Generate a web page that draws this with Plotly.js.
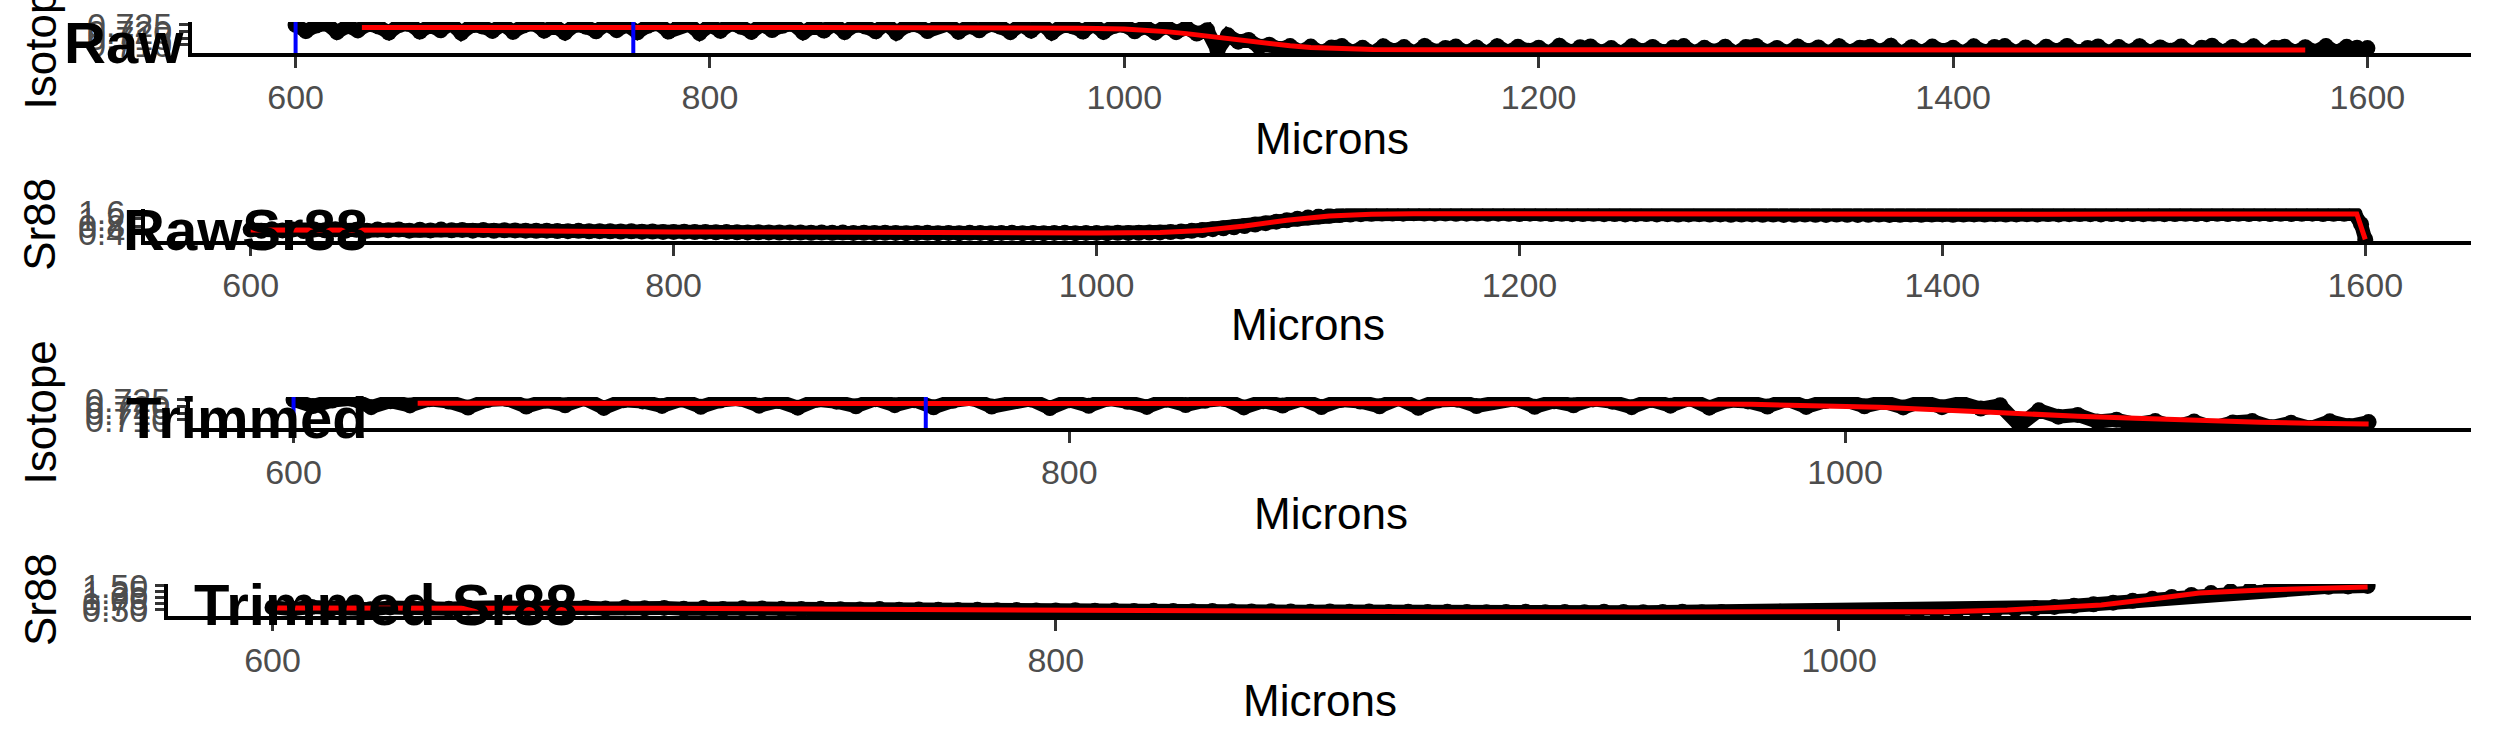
<!DOCTYPE html>
<html>
<head>
<meta charset="utf-8">
<script src="https://cdn.plot.ly/plotly-3.0.1.min.js"></script>
<style>html,body{margin:0;padding:0;background:#fff;}#chart{width:2495px;height:749px;}</style>
</head>
<body>
<div id="chart"></div>
<script>
// ---------------- DATA ----------------
const panelTitles = ["Raw", "RawSr88", "Trimmed", "Trimmed Sr88"];
const yTitles = ["Isotope", "Sr88", "Isotope", "Sr88"];
const xTitle = "Microns";

const micron = [
  600,605,610,615,620,625,630,635,640,645,650,655,660,665,670,675,680,685,690,695,
  700,705,710,715,720,725,730,735,740,745,750,755,760,765,770,775,780,785,790,795,
  800,805,810,815,820,825,830,835,840,845,850,855,860,865,870,875,880,885,890,895,
  900,905,910,915,920,925,930,935,940,945,950,955,960,965,970,975,980,985,990,995,
  1000,1005,1010,1015,1020,1025,1030,1035,1040,1045,1050,1055,1060,1065,1070,1075,1080,1085,1090,1095,
  1100,1105,1110,1115,1120,1125,1130,1135,1140,1145,1150,1155,1160,1165,1170,1175,1180,1185,1190,1195,
  1200,1205,1210,1215,1220,1225,1230,1235,1240,1245,1250,1255,1260,1265,1270,1275,1280,1285,1290,1295,
  1300,1305,1310,1315,1320,1325,1330,1335,1340,1345,1350,1355,1360,1365,1370,1375,1380,1385,1390,1395,
  1400,1405,1410,1415,1420,1425,1430,1435,1440,1445,1450,1455,1460,1465,1470,1475,1480,1485,1490,1495,
  1500,1505,1510,1515,1520,1525,1530,1535,1540,1545,1550,1555,1560,1565,1570,1575,1580,1585,1590,1595,
  1598,1600
];

const isotope = [
  0.7250,0.7204,0.7246,0.7258,0.7196,0.7241,0.7209,0.7255,0.7238,0.7193,
  0.7249,0.7257,0.7201,0.7244,0.7210,0.7260,0.7190,0.7247,0.7239,0.7205,
  0.7253,0.7199,0.7245,0.7259,0.7207,0.7242,0.7192,0.7251,0.7237,0.7203,
  0.7256,0.7211,0.7248,0.7195,0.7243,0.7261,0.7200,0.7240,0.7254,0.7189,
  0.7247,0.7206,0.7258,0.7236,0.7198,0.7252,0.7212,0.7244,0.7257,0.7194,
  0.7241,0.7208,0.7255,0.7197,0.7249,0.7238,0.7202,0.7260,0.7191,0.7246,
  0.7252,0.7204,0.7243,0.7256,0.7199,0.7240,0.7210,0.7254,0.7237,0.7196,
  0.7250,0.7207,0.7259,0.7192,0.7245,0.7239,0.7201,0.7253,0.7198,0.7242,
  0.7248,0.7203,0.7236,0.7194,
  0.7240,0.7196,0.7228,0.7185,0.7210,0.7060,0.7172,0.7125,0.7138,0.7088,0.7102,0.7070,0.7092,
  0.7050,0.7088,0.7043,0.7081,0.7092,0.7046,0.7079,0.7040,0.7090,0.7055,
  0.7084,0.7041,0.7093,0.7052,0.7078,0.7088,0.7044,0.7082,0.7039,0.7091,
  0.7048,0.7086,0.7056,0.7080,0.7042,0.7094,0.7050,0.7083,0.7089,0.7045,
  0.7077,0.7040,0.7090,0.7053,0.7085,0.7047,0.7081,0.7092,0.7043,0.7079,
  0.7051,0.7087,0.7038,0.7084,0.7093,0.7049,0.7078,0.7044,0.7089,0.7054,
  0.7082,0.7041,0.7091,0.7047,0.7080,0.7086,0.7052,0.7094,0.7039,0.7083,
  0.7046,0.7088,0.7055,0.7079,0.7042,0.7090,0.7050,0.7085,0.7092,0.7044,
  0.7081,0.7040,0.7087,0.7053,0.7093,0.7048,0.7078,0.7089,0.7043,0.7084,
  0.7049,0.7091,0.7045,0.7082,0.7056,0.7088,0.7041,0.7080,0.7094,0.7047,
  0.7085,0.7052,0.7090,0.7039,0.7079,0.7087,0.7046,0.7083,0.7050,0.7092,
  0.7044,0.7086,0.7080,
  0.7051,0.7077
];

const sr88 = [
  0.60,0.53,0.62,0.55,0.61,0.52,0.60,0.56,0.62,0.54,0.59,0.53,0.61,0.56,0.60,0.54,0.59,0.55,0.60,0.56,
  0.58,0.54,0.57,0.53,0.56,0.55,0.54,0.53,0.54,0.52,0.51,0.53,0.50,0.51,0.50,0.49,0.50,0.48,0.49,0.47,
  0.47,0.48,0.46,0.47,0.45,0.46,0.45,0.44,0.45,0.44,0.43,0.44,0.43,0.42,0.43,0.42,0.43,0.41,0.42,0.41,
  0.42,0.41,0.40,0.41,0.42,0.40,0.41,0.40,0.42,0.41,0.40,0.41,0.42,0.40,0.41,0.40,0.41,0.42,0.40,0.41,
  0.41,0.40,0.42,0.41,0.42,0.43,0.44,
  0.46,0.49,0.53,0.57,0.62,0.67,0.73,0.80,0.88,0.96,1.04,1.12,1.20,1.27,1.33,1.37,1.41,1.44,1.46,1.48,1.50,
  1.50,1.49,1.51,1.50,1.49,1.50,1.48,1.49,1.50,1.48,
  1.49,1.48,1.47,1.49,1.48,1.47,1.48,1.46,1.47,1.48,
  1.46,1.47,1.45,1.46,1.47,1.45,1.46,1.44,1.45,1.46,
  1.44,1.45,1.43,1.44,1.45,1.43,1.44,1.42,1.43,1.44,
  1.43,1.42,1.44,1.43,1.42,1.43,1.44,1.42,1.43,1.44,
  1.43,1.44,1.45,1.43,1.44,1.45,1.44,1.46,1.44,1.45,
  1.46,1.45,1.47,1.45,1.46,1.47,1.46,1.45,1.47,1.46,
  1.47,1.46,1.48,1.46,1.47,1.48,1.47,1.46,1.48,1.47,
  1.48,1.47,1.49,1.47,1.48,1.47,1.48,1.49,1.47,1.48,
  1.48,1.47,
  0.90,0.05
];

// smoothed (red) curves
const rawIsoSmoothX = [632,660,700,750,800,850,900,950,980,1000,1010,1020,1030,1040,1050,1060,1070,1080,1090,1100,1110,1120,1150,1200,1250,1300,1350,1400,1450,1500,1550,1570];
const rawIsoSmoothY = [0.7231,0.7232,0.7229,0.7233,0.7230,0.7231,0.7229,0.7230,0.7226,0.7220,0.7212,0.7200,0.7185,0.7166,0.7146,0.7126,0.7108,0.7094,0.7082,0.7074,0.7069,0.7066,0.7064,0.7063,0.7064,0.7062,0.7063,0.7064,0.7063,0.7062,0.7063,0.7063];

const rawSrSmoothX = [600,700,800,900,1000,1030,1050,1070,1090,1110,1130,1150,1200,1250,1300,1350,1400,1450,1500,1550,1590,1596,1600];
const rawSrSmoothY = [0.575,0.56,0.47,0.42,0.41,0.43,0.55,0.80,1.12,1.36,1.46,1.49,1.48,1.46,1.44,1.43,1.44,1.46,1.47,1.48,1.48,1.47,0.05];

const trimIsoSmoothX = [632,700,800,911,950,976,1000,1009,1025,1042,1060,1075,1090,1107,1120,1135];
const trimIsoSmoothY = [0.7225,0.7226,0.7225,0.7225,0.7222,0.7217,0.7203,0.7195,0.7175,0.7150,0.7128,0.7113,0.7097,0.7083,0.7076,0.7070];

const trimSrSmoothX = [600,650,700,750,800,850,900,950,1000,1027,1043,1055,1067,1080,1092,1108,1120,1135];
const trimSrSmoothY = [0.575,0.575,0.56,0.52,0.47,0.44,0.42,0.41,0.41,0.42,0.49,0.58,0.70,0.95,1.20,1.33,1.40,1.455];

const windowMarks = [600, 763];     // blue vertical lines (isotope panels)
const trimmedEnd = 1135;             // last micron kept in the trimmed panels

const isoTicks = [0.710, 0.715, 0.720, 0.725];
const rawSrTicks = [0.4, 0.8, 1.2, 1.6];
const trimSrTicks = [0.50, 0.75, 1.00, 1.25, 1.50];
const rawXTicks = [600, 800, 1000, 1200, 1400, 1600];
const trimXTicks = [600, 800, 1000];

// ---------------- LAYOUT HELPERS ----------------
const W = 2495, H = 749;
const FONT = "Liberation Sans, Arial, Helvetica, sans-serif";
const px = v => v / W;
const py = v => 1 - v / H;

const trimIdx = micron.map((m, i) => i).filter(i => micron[i] <= trimmedEnd);
const trimMicron = trimIdx.map(i => micron[i]);
const trimIso = trimIdx.map(i => isotope[i]);
const trimSr = trimIdx.map(i => sr88[i]);

// pixel geometry of each panel [left, right, top, bottom]
const geom = [
  [192, 2471, 22, 53],
  [145, 2471, 208.5, 241],
  [190, 2471, 397, 428],
  [168, 2471, 584, 616]
];
const xr = [[550, 1650], [550, 1650], [573.3, 1161.4], [573.3, 1161.4]];
const yr = [[0.7040, 0.7272], [-0.04, 1.78], [0.7040, 0.7272], [0.24, 1.58]];
const yt = [isoTicks, rawSrTicks, isoTicks, trimSrTicks];
const yfmt = [".3f", ".1f", ".3f", ".2f"];
const xt = [rawXTicks, rawXTicks, trimXTicks, trimXTicks];

const ptsX = [micron, micron, trimMicron, trimMicron];
const ptsY = [isotope, sr88, trimIso, trimSr];
const redX = [rawIsoSmoothX, rawSrSmoothX, trimIsoSmoothX, trimSrSmoothX];
const redY = [rawIsoSmoothY, rawSrSmoothY, trimIsoSmoothY, trimSrSmoothY];

const traces = [];
const layout = {
  width: W, height: H,
  margin: {l: 0, r: 0, t: 0, b: 0, pad: 0},
  paper_bgcolor: "#ffffff", plot_bgcolor: "#ffffff",
  showlegend: false,
  font: {family: FONT, color: "#000000"},
  annotations: [], shapes: []
};

for (let k = 0; k < 4; k++) {
  const s = k === 0 ? "" : String(k + 1);
  const [l, r, t, b] = geom[k];
  traces.push({
    type: "scatter", mode: "lines+markers", x: ptsX[k], y: ptsY[k],
    xaxis: "x" + s, yaxis: "y" + s,
    marker: {color: "#000000", size: 16, line: {width: 0}},
    line: {color: "#000000", width: 14},
    cliponaxis: true, hoverinfo: "skip"
  });
  traces.push({
    type: "scatter", mode: "lines", x: redX[k], y: redY[k],
    xaxis: "x" + s, yaxis: "y" + s,
    line: {color: "#FF0000", width: 5}, hoverinfo: "skip"
  });
  layout["xaxis" + s] = {
    domain: [px(l), px(r)], range: xr[k], anchor: "y" + s,
    tickmode: "array", tickvals: xt[k], ticktext: xt[k].map(String),
    ticks: "outside", ticklen: 11, tickwidth: 3, tickcolor: "#333333",
    tickfont: {family: FONT, size: 34, color: "#4D4D4D"},
    showline: true, linecolor: "#000000", linewidth: 4,
    showgrid: false, zeroline: false, automargin: false
  };
  layout["yaxis" + s] = {
    domain: [py(b), py(t)], range: yr[k], anchor: "x" + s,
    tickmode: "array", tickvals: yt[k], tickformat: yfmt[k],
    ticks: "outside", ticklen: 9, tickwidth: 3, tickcolor: "#333333",
    tickfont: {family: FONT, size: 34, color: "#4D4D4D"},
    showline: true, linecolor: "#000000", linewidth: 4,
    showgrid: false, zeroline: false, automargin: false
  };
  // x title
  layout.annotations.push({
    xref: "paper", yref: "paper", x: px((l + r) / 2), y: py(t + 116),
    xanchor: "center", yanchor: "middle", showarrow: false,
    text: xTitle, font: {family: FONT, size: 44, color: "#000000"}
  });
  // y title
  layout.annotations.push({
    xref: "paper", yref: "paper", x: px(40), y: py((t + b) / 2),
    xanchor: "center", yanchor: "middle", showarrow: false, textangle: -90,
    text: yTitles[k], font: {family: FONT, size: 44, color: "#000000"}
  });
}

// panel titles
const titlePos = [[62, 42.5], [121, 229.5], [124, 417.5], [192, 604.5]];
for (let k = 0; k < 4; k++) {
  layout.annotations.push({
    xref: "paper", yref: "paper", x: px(titlePos[k][0]), y: py(titlePos[k][1]),
    xanchor: "left", yanchor: "middle", showarrow: false,
    text: "<b>" + panelTitles[k] + "</b>",
    font: {family: FONT, size: 58, color: "#000000"}
  });
}

// blue window lines in the isotope panels
[["x", "y"], ["x3", "y3"]].forEach(([xa, ya]) => {
  windowMarks.forEach(m => {
    layout.shapes.push({
      type: "line", xref: xa, yref: ya + " domain", x0: m, x1: m, y0: 0, y1: 1,
      line: {color: "#0000FF", width: 4}, layer: "above"
    });
  });
});

Plotly.newPlot("chart", traces, layout, {staticPlot: true, displayModeBar: false});
</script>
</body>
</html>
